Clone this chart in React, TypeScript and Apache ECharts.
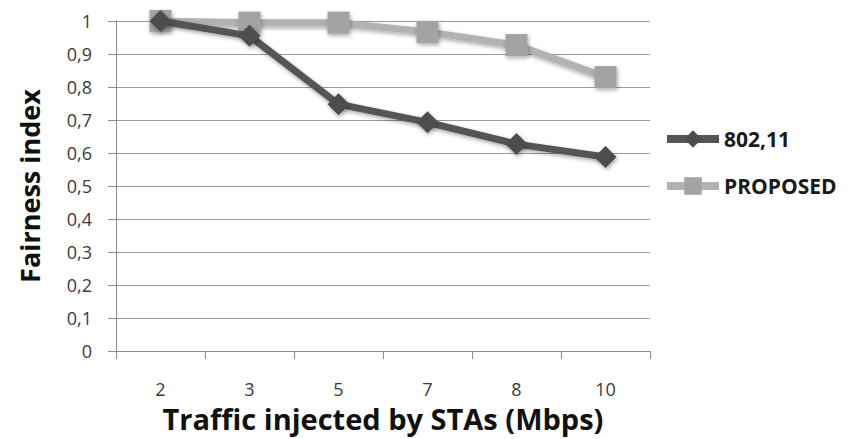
import React, { useEffect, useRef } from "react";
import * as echarts from "echarts";

const categories = ["2", "3", "5", "7", "8", "10"];
const series80211 = [1, 0.955, 0.748, 0.693, 0.627, 0.588];
const seriesProposed = [1, 0.995, 0.995, 0.967, 0.927, 0.83];
const yTicks = [0, 0.1, 0.2, 0.3, 0.4, 0.5, 0.6, 0.7, 0.8, 0.9, 1];

const FONT = "'Open Sans', Lato, sans-serif";

export default function App() {
  const ref = useRef<HTMLDivElement>(null);

  useEffect(() => {
    if (!ref.current) return;
    const chart = echarts.init(ref.current, undefined, { renderer: "svg" });
    const shadow = {
      shadowBlur: 4,
      shadowColor: "rgba(0,0,0,0.35)",
      shadowOffsetX: 1,
      shadowOffsetY: 2,
    };
    chart.setOption({
      animation: false,
      backgroundColor: "#ffffff",
      textStyle: { fontFamily: FONT },
      grid: { left: 116, right: 209, top: 21, bottom: 88, containLabel: false },
      legend: {
        orient: "vertical",
        left: 663,
        top: 128,
        padding: 0,
        itemWidth: 52,
        itemHeight: 22,
        itemGap: 25,
        lineStyle: { width: 8 },
        textStyle: {
          fontFamily: FONT,
          fontWeight: "bold",
          fontSize: 21,
          lineHeight: 22,
          color: "#1a1a1a",
        },
        data: ["802,11", "PROPOSED"],
      },
      xAxis: {
        type: "category",
        data: categories,
        boundaryGap: true,
        name: "Traffic injected by STAs (Mbps)",
        nameLocation: "middle",
        nameGap: 53,
        nameTextStyle: {
          fontFamily: FONT,
          fontWeight: "bold",
          fontSize: 29,
          lineHeight: 29,
          color: "#111",
        },
        axisLine: { lineStyle: { color: "#8c8c8c", width: 1 } },
        axisTick: { show: true, length: 8, lineStyle: { color: "#8c8c8c" } },
        axisLabel: { fontFamily: FONT, fontSize: 18, lineHeight: 18, color: "#3a3a3a", margin: 29 },
        splitLine: { show: false },
      },
      yAxis: {
        type: "value",
        min: 0,
        max: 1,
        interval: 0.1,
        name: "Fairness index",
        nameLocation: "middle",
        nameGap: 73,
        nameRotate: 90,
        nameTextStyle: { fontFamily: FONT, fontWeight: "bold", fontSize: 27, color: "#111" },
        axisLine: { show: true, lineStyle: { color: "#8c8c8c", width: 1 } },
        axisTick: { show: true, length: 8, lineStyle: { color: "#8c8c8c" } },
        axisLabel: {
          fontFamily: FONT,
          fontSize: 18,
          color: "#3a3a3a",
          margin: 24,
          formatter: (v: number) => {
            const t = yTicks.find((x) => Math.abs(x - v) < 1e-6);
            const val = t !== undefined ? t : v;
            return val === 0 || val === 1 ? String(val) : val.toFixed(1).replace(".", ",");
          },
        },
        splitLine: { show: true, lineStyle: { color: "#9a9a9a", width: 1 } },
      },
      series: [
        {
          name: "PROPOSED",
          type: "line",
          data: seriesProposed,
          symbol: "rect",
          symbolSize: 22,
          z: 2,
          lineStyle: { color: "#b2b2b2", width: 7, ...shadow },
          itemStyle: { color: "#a3a3a3", ...shadow },
        },
        {
          name: "802,11",
          type: "line",
          data: series80211,
          symbol: "diamond",
          symbolSize: 22,
          z: 3,
          lineStyle: { color: "#555555", width: 7, ...shadow },
          itemStyle: { color: "#4d4d4d", ...shadow },
        },
      ],
    });
    return () => chart.dispose();
  }, []);

  return (
    <div
      ref={ref}
      style={{ position: "fixed", left: 0, top: 0, width: 859, height: 439 }}
    />
  );
}
